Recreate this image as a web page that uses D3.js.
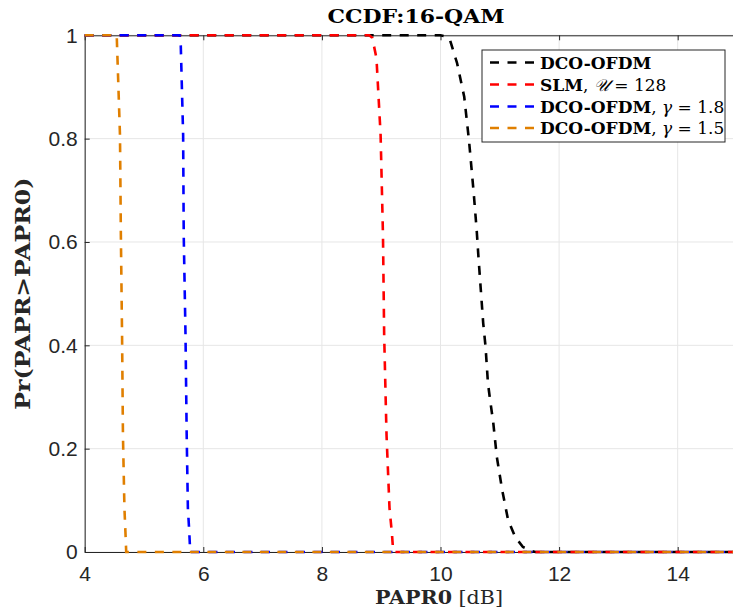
<!DOCTYPE html>
<html><head><meta charset="utf-8">
<script src="https://cdn.jsdelivr.net/npm/d3@7"></script>
<style>body{margin:0;background:#fff}</style>
</head><body>
<svg id="c" width="733" height="609"></svg>
<script>
const xTicks = [4, 6, 8, 10, 12, 14];
const yTicks = [0, 0.2, 0.4, 0.6, 0.8, 1];
const dcoX = [4, 10.0, 10.08, 10.16, 10.28, 10.40, 10.48, 10.51, 10.56, 10.61, 10.64, 10.68, 10.72, 10.76, 10.80, 10.83, 10.89, 10.95, 11.04, 11.14, 11.26, 11.39, 11.54, 11.6, 15];
const dcoY = [1, 1, 0.998, 0.991, 0.946, 0.881, 0.797, 0.759, 0.695, 0.623, 0.571, 0.507, 0.443, 0.397, 0.327, 0.30, 0.25, 0.184, 0.12, 0.062, 0.029, 0.0097, 0.002, 0, 0];
const slmX = [4, 8.8, 8.85, 8.92, 8.99, 9.03, 9.05, 9.09, 9.14, 9.18, 9.2, 9.22, 15];
const slmY = [1, 1, 0.995, 0.956, 0.807, 0.613, 0.42, 0.226, 0.085, 0.037, 0.005, 0, 0];
const g18X = [4, 5.6, 5.62, 5.66, 5.67, 5.70, 5.72, 5.74, 5.76, 5.78, 15];
const g18Y = [1, 1, 0.981, 0.807, 0.613, 0.42, 0.226, 0.085, 0.046, 0, 0];
const g15X = [4, 4.54, 4.595, 4.61, 4.63, 4.645, 4.67, 4.69, 4.70, 15];
const g15Y = [1, 1, 0.807, 0.613, 0.42, 0.226, 0.085, 0.03, 0, 0];
const seriesNames = ["DCO-OFDM", "SLM", "DCO-OFDM γ=1.8", "DCO-OFDM γ=1.5"];
const seriesColors = ["#000000", "#ff0000", "#0000ff", "#e07f00"];

const series = [
  {x: dcoX, y: dcoY}, {x: slmX, y: slmY}, {x: g18X, y: g18Y}, {x: g15X, y: g15Y}
].map((s, i) => ({pts: s.x.map((v, j) => [v, s.y[j]]), color: seriesColors[i], name: seriesNames[i]}));

const svg = d3.select("#c");
const L = 84.7, R = 737, T = 35.3, B = 552;
const x = d3.scaleLinear().domain([4, 15]).range([L, R]);
const y = d3.scaleLinear().domain([0, 1]).range([B, T]);
const axisCol = "#262626";

// grid
svg.append("g").selectAll("line").data(xTicks).join("line")
  .attr("x1", d => x(d)).attr("x2", d => x(d)).attr("y1", T).attr("y2", B)
  .attr("stroke", "#e6e6e6").attr("stroke-width", 1);
svg.append("g").selectAll("line").data(yTicks).join("line")
  .attr("x1", L).attr("x2", R).attr("y1", d => y(d)).attr("y2", d => y(d))
  .attr("stroke", "#e6e6e6").attr("stroke-width", 1);

// axes
const xAx = svg.append("g").attr("transform", `translate(0,${B})`)
  .call(d3.axisBottom(x).tickValues(xTicks).tickSizeInner(-5).tickSizeOuter(0).tickPadding(14));
const xAxTop = svg.append("g").attr("transform", `translate(0,${T})`)
  .call(d3.axisTop(x).tickValues(xTicks).tickSizeInner(-5).tickSizeOuter(0).tickFormat(""));
const yAx = svg.append("g").attr("transform", `translate(${L},0)`)
  .call(d3.axisLeft(y).tickValues(yTicks).tickSizeInner(-5).tickSizeOuter(0).tickPadding(7)
    .tickFormat(d => d === 0 ? "0" : d === 1 ? "1" : d3.format(".1f")(d)));
[xAx, xAxTop, yAx].forEach(a => {
  a.select(".domain").attr("stroke", axisCol).attr("stroke-width", 1);
  a.selectAll(".tick line").attr("stroke", axisCol);
  a.selectAll("text").attr("fill", axisCol).attr("font-family", "Liberation Sans, Arial, sans-serif").attr("font-size", 21);
});

// lines
const clipId = "clip";
svg.append("clipPath").attr("id", clipId).append("rect").attr("x", L - 3).attr("y", T - 4).attr("width", R - L + 6).attr("height", B - T + 8);
const line = d3.line().x(d => x(d[0])).y(d => y(d[1]));
svg.append("g").attr("clip-path", `url(#${clipId})`).selectAll("path").data(series).join("path")
  .attr("d", d => line(d.pts)).attr("fill", "none").attr("stroke", d => d.color)
  .attr("stroke-width", 2.6).attr("stroke-dasharray", "9,8.5");

// legend
const serif = "DejaVu Serif, Liberation Serif, serif";
const lg = svg.append("g");
lg.append("rect").attr("x", 482).attr("y", 50).attr("width", 243).attr("height", 92)
  .attr("fill", "#fff").attr("stroke", axisCol).attr("stroke-width", 1);
const rowY = [62.5, 84.5, 106.5, 128];
series.forEach((s, i) => {
  lg.append("line").attr("x1", 490).attr("x2", 535).attr("y1", rowY[i]).attr("y2", rowY[i])
    .attr("stroke", s.color).attr("stroke-width", 2.6).attr("stroke-dasharray", "9,8.5");
});
function legText(i, parts) {
  const t = lg.append("text").attr("x", 540).attr("y", rowY[i] + 6)
    .attr("font-family", serif).attr("font-size", 17).attr("fill", "#000");
  parts.forEach(p => t.append("tspan").text(p.t)
    .attr("font-weight", p.b ? "bold" : "normal").attr("font-style", p.i ? "italic" : "normal")
    .attr("font-family", p.f || serif));
}
legText(0, [{t: "DCO-OFDM", b: 1}]);
legText(1, [{t: "SLM", b: 1}, {t: ", "}, {t: "𝒰", i: 1, f: "DejaVu Serif, serif"}, {t: " = 128"}]);
legText(2, [{t: "DCO-OFDM", b: 1}, {t: ", "}, {t: "γ", i: 1}, {t: " = 1.8"}]);
legText(3, [{t: "DCO-OFDM", b: 1}, {t: ", "}, {t: "γ", i: 1}, {t: " = 1.5"}]);

// title
svg.append("text").attr("x", 416).attr("y", 23).attr("text-anchor", "middle")
  .attr("font-family", serif).attr("font-weight", "bold").attr("font-size", 19).attr("fill", "#000")
  .attr("textLength", 177).attr("lengthAdjust", "spacingAndGlyphs")
  .text("CCDF:16-QAM");
// x label
const xl = svg.append("text").attr("x", 439).attr("y", 604).attr("text-anchor", "middle")
  .attr("font-family", serif).attr("font-size", 19).attr("fill", axisCol)
  .attr("textLength", 128).attr("lengthAdjust", "spacingAndGlyphs");
xl.append("tspan").attr("font-weight", "bold").text("PAPR0");
xl.append("tspan").text(" [dB]");
// y label
svg.append("text").attr("transform", `translate(30,${(T + B) / 2}) rotate(-90)`).attr("text-anchor", "middle")
  .attr("font-family", serif).attr("font-weight", "bold").attr("font-size", 20).attr("fill", axisCol)
  .attr("textLength", 232).attr("lengthAdjust", "spacingAndGlyphs")
  .text("Pr(PAPR>PAPR0)");
</script>
</body></html>
